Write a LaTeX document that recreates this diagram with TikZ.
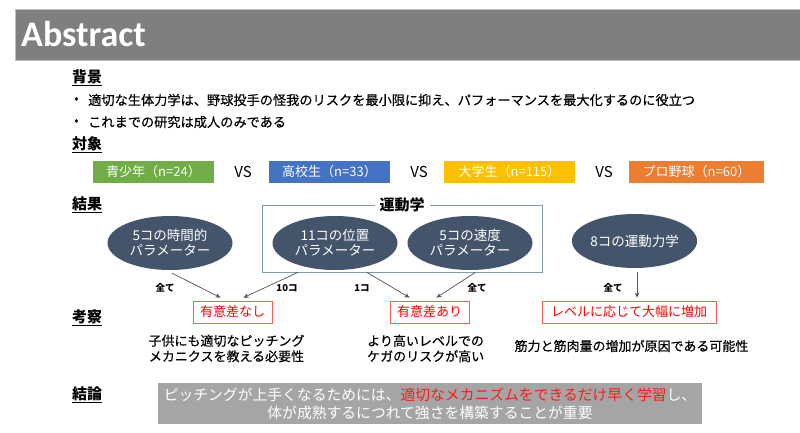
\documentclass[tikz,border=0pt]{standalone}
\usepackage{fontspec}
\setmainfont{Noto Sans CJK JP}
\newfontfamily\titlefont{Carlito}
\newfontfamily\medfont[FakeBold=0.4]{Noto Sans CJK JP}
\usetikzlibrary{shapes.geometric,arrows.meta,calc}
\definecolor{tgray}{HTML}{7F7F7F}
\definecolor{cgreen}{HTML}{70AD47}
\definecolor{cblue}{HTML}{4472C4}
\definecolor{cyellow}{HTML}{FFC000}
\definecolor{corange}{HTML}{ED7D31}
\definecolor{slate}{HTML}{44546A}
\definecolor{boxline}{HTML}{8497B0}
\definecolor{redline}{HTML}{FF5B5B}
\definecolor{concl}{HTML}{A5A5A5}
\definecolor{hired}{HTML}{FF1A1A}
\tikzset{
  head/.style={font=\fontsize{15}{18}\selectfont\bfseries, anchor=west, inner sep=0},
  body/.style={font=\medfont\fontsize{13.2}{16}\selectfont, anchor=west, inner sep=0},
  grp/.style={minimum height=22pt, inner sep=0, text=white, font=\fontsize{13}{15}\selectfont},
  vs/.style={font=\fontsize{15}{18}\selectfont, inner sep=0},
  ell/.style={ellipse, fill=slate, minimum width=125pt, minimum height=54pt, inner sep=0,
    text=white, align=center, font=\fontsize{13.5}{15}\selectfont},
  redbox/.style={draw=redline, line width=0.9pt, fill=white, text=red, minimum height=22pt,
    inner xsep=0, inner ysep=0, font=\fontsize{13}{15}\selectfont},
  arr/.style={draw=slate, line width=0.7pt, -{Stealth[length=5pt,width=4.5pt]}},
  lab/.style={font=\fontsize{9.5}{11}\selectfont\bfseries, inner sep=0},
  cons/.style={font=\medfont\fontsize{13}{15.5}\selectfont, inner sep=0}
}
\begin{document}
\begin{tikzpicture}[x=1pt,y=-1pt]
\useasboundingbox (0,0) rectangle (800,432);
% title bar
\node[fill=tgray, draw=black!25, line width=0.6pt, minimum width=786pt, minimum height=51pt,
  inner sep=0, anchor=north west] (bar) at (15,9) {};
\node[anchor=west, inner sep=0, text=white, font=\titlefont\bfseries\fontsize{36}{42}\selectfont]
  (title) at (21,34) {Abstract};
% headings
\node[head] (h1) at (72,78) {\underline{背景}};
\node[head] (h2) at (72,145) {\underline{対象}};
\node[head] (h3) at (72,205) {\underline{結果}};
\node[head] (h4) at (72,318) {\underline{考察}};
\node[head] (h5) at (72,395) {\underline{結論}};
% bullets
\node[body] (bu1) at (74,100) {•};
\node[body] (t1) at (88,100) {適切な生体力学は、野球投手の怪我のリスクを最小限に抑え、パフォーマンスを最大化するのに役立つ};
\node[body] (bu2) at (74,122) {•};
\node[body] (t2) at (88,122) {これまでの研究は成人のみである};
% groups
\node[grp, fill=cgreen, minimum width=121pt] (g1) at (153.5,172) {青少年（n=24）};
\node[vs] (vs1) at (243,172) {VS};
\node[grp, fill=cblue, minimum width=121pt] (g2) at (329.5,172) {高校生（n=33）};
\node[vs] (vs2) at (419,172) {VS};
\node[grp, fill=cyellow, minimum width=131pt] (g3) at (509.5,172) {大学生（n=115）};
\node[vs] (vs3) at (604,172) {VS};
\node[grp, fill=corange, minimum width=135pt] (g4) at (696.5,172) {プロ野球（n=60）};
% kinematics box
\node[draw=boxline, line width=0.8pt, minimum width=280pt, minimum height=67pt, inner sep=0]
  (kbox) at (402,238.5) {};
\node[fill=white, inner xsep=5pt, inner ysep=1pt, font=\fontsize{15}{18}\selectfont\bfseries]
  (klab) at (402,205) {運動学};
% ellipses
\node[ell] (e1) at (170,243) {5コの時間的\\パラメーター};
\node[ell] (e2) at (335,243) {11コの位置\\パラメーター};
\node[ell] (e3) at (470,243) {5コの速度\\パラメーター};
\node[ell] (e4) at (634.5,241) {8コの運動力学};
% result boxes
\node[redbox, minimum width=79pt] (b1) at (232.5,312) {有意差なし};
\node[redbox, minimum width=79pt] (b2) at (429.5,312) {有意差あり};
\node[redbox, minimum width=174pt] (b3) at (629,312) {レベルに応じて大幅に増加};
% arrows
\draw[arr] ($(e1.south)+(2,3)$) -- ($(b1.north)+(-12,-3)$);
\draw[arr] ($(kbox.south west)!0.129!(kbox.south east)$) -- ($(b1.north)+(11,-3)$);
\draw[arr] ($(kbox.south west)!0.375!(kbox.south east)$) -- ($(b2.north)+(-20,-3)$);
\draw[arr] ($(kbox.south west)!0.761!(kbox.south east)$) -- ($(b2.north)+(7,-3)$);
\draw[arr] ($(e4.south)+(2.5,4)$) -- ($(b3.north)+(8,-3)$);
% arrow labels
\node[lab] (l1) at (165,288) {全て};
\node[lab] (l2) at (287,288) {10コ};
\node[lab] (l3) at (362,288) {1コ};
\node[lab] (l4) at (477,288) {全て};
\node[lab] (l5) at (613,288) {全て};
% considerations
\node[cons, align=center] (c1) at (226.5,348.5) {子供にも適切なピッチング\\メカニクスを教える必要性};
\node[cons, align=left, anchor=west] (c2) at (367,348.5) {より高いレベルでの\\ケガのリスクが高い};
\node[cons] (c3) at (631.5,346) {筋力と筋肉量の増加が原因である可能性};
% conclusion
\node[fill=concl, minimum width=544pt, minimum height=41pt, inner sep=0, align=center,
  text=white, font=\fontsize{14.8}{18}\selectfont] (cbox) at (430,403.5)
  {ピッチングが上手くなるためには、\textcolor{hired}{適切なメカニズムをできるだけ早く学習}し、\\体が成熟するにつれて強さを構築することが重要};
\end{tikzpicture}
\end{document}
